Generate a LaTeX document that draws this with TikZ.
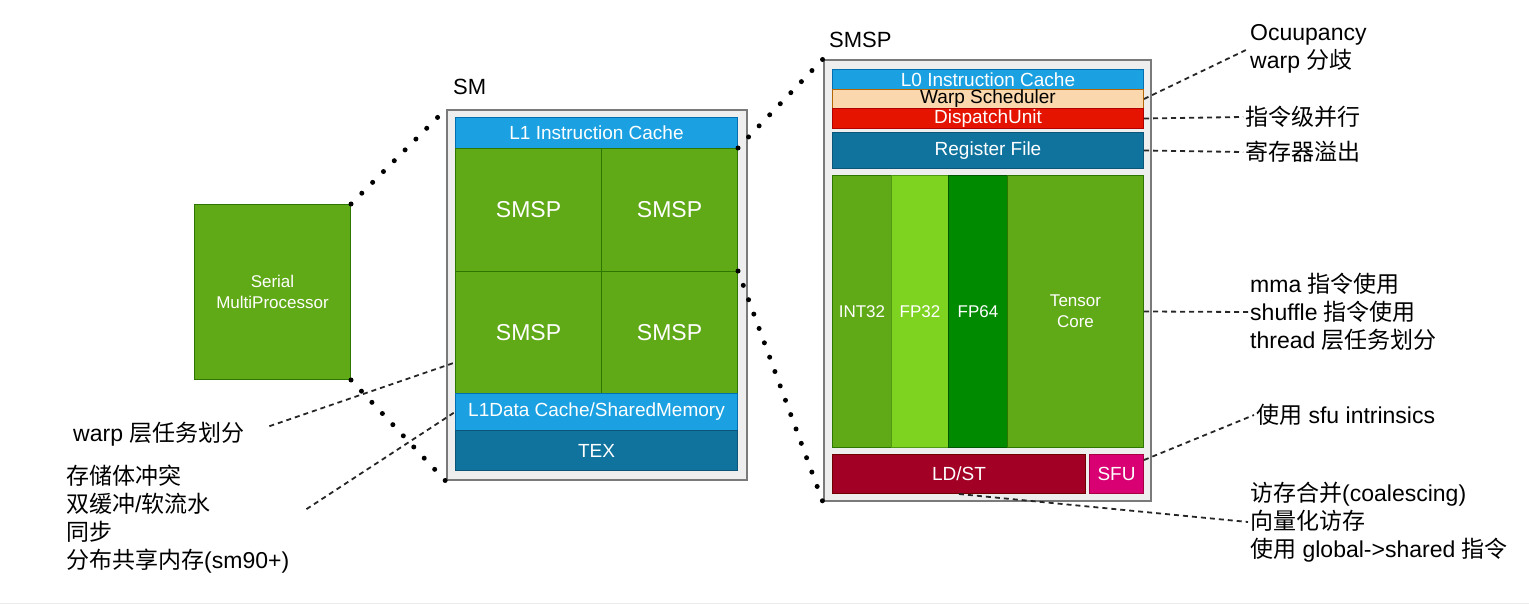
\documentclass[tikz,border=0pt]{standalone}
\usepackage{fontspec}
\setmainfont{Liberation Sans}
\newfontfamily\cjk{Noto Sans CJK SC}
\definecolor{gfill}{HTML}{60A917}
\definecolor{gline}{HTML}{2D7600}
\definecolor{lgfill}{HTML}{7ED321}
\definecolor{lgline}{HTML}{4F9A12}
\definecolor{dgfill}{HTML}{008A00}
\definecolor{dgline}{HTML}{005700}
\definecolor{bfill}{HTML}{1BA1E2}
\definecolor{bline}{HTML}{006EAF}
\definecolor{tfill}{HTML}{10739E}
\definecolor{tline}{HTML}{0A5578}
\definecolor{ofill}{HTML}{FAD7AC}
\definecolor{oline}{HTML}{B46504}
\definecolor{rfill}{HTML}{E51400}
\definecolor{rline}{HTML}{B20000}
\definecolor{cfill}{HTML}{A20025}
\definecolor{cline}{HTML}{6F0000}
\definecolor{mfill}{HTML}{D80073}
\definecolor{mline}{HTML}{A50040}
\definecolor{frfill}{HTML}{EEEEEE}
\definecolor{frline}{HTML}{7A7A7A}
\begin{document}
\begin{tikzpicture}[x=1pt,y=-1pt,
  box/.style={draw, anchor=north west, inner sep=0pt, text=white, align=center,
    font=\fontsize{19}{23}\selectfont, line width=1pt},
  greenbox/.style={box, fill=gfill, draw=gline},
  lgreenbox/.style={box, fill=lgfill, draw=lgline},
  dgreenbox/.style={box, fill=dgfill, draw=dgline},
  bluebox/.style={box, fill=bfill, draw=bline},
  tealbox/.style={box, fill=tfill, draw=tline},
  orangebox/.style={box, fill=ofill, draw=oline, text=black},
  redbox/.style={box, fill=rfill, draw=rline},
  crimsonbox/.style={box, fill=cfill, draw=cline},
  magentabox/.style={box, fill=mfill, draw=mline},
  framebox/.style={draw=frline, fill=frfill, line width=2.4pt, anchor=north west, inner sep=0pt},
  title/.style={anchor=west, inner sep=0pt, font=\fontsize{22}{26}\selectfont},
  lbl/.style={anchor=west, inner sep=2pt, align=left, font=\fontsize{23}{28}\selectfont},
  dotline/.style={line width=5pt, line cap=round, dash pattern=on 0pt off 15.3pt},
  dashline/.style={draw=black!85, line width=1.8pt, dash pattern=on 5pt off 4pt},
]
\useasboundingbox (0,0) rectangle (1529,604);
\draw[black!8, line width=1pt] (0,603.5) -- (1529,603.5);

% Serial MultiProcessor
\node[greenbox, minimum width=156pt, minimum height=175pt, font=\fontsize{17}{21}\selectfont] (smp) at (194,204) {Serial\\MultiProcessor};

% SM
\node[title] (smtitle) at (453,87) {SM};
\node[framebox, minimum width=300pt, minimum height=370pt] (smframe) at (446,109) {};
\node[bluebox, minimum width=282pt, minimum height=31pt] (l1i) at (455,117) {L1 Instruction Cache};
\node[greenbox, minimum width=146pt, minimum height=123pt, font=\fontsize{23}{27}\selectfont] (smsp1) at (455,148) {SMSP};
\node[greenbox, minimum width=136pt, minimum height=123pt, font=\fontsize{23}{27}\selectfont] (smsp2) at (601,148) {SMSP};
\node[greenbox, minimum width=146pt, minimum height=122pt, font=\fontsize{23}{27}\selectfont] (smsp3) at (455,271) {SMSP};
\node[greenbox, minimum width=136pt, minimum height=122pt, font=\fontsize{23}{27}\selectfont] (smsp4) at (601,271) {SMSP};
\node[bluebox, minimum width=282pt, minimum height=37pt] (l1d) at (455,393) {L1Data Cache/SharedMemory};
\node[tealbox, minimum width=282pt, minimum height=40pt] (tex) at (455,430) {TEX};

% SMSP
\node[title] (smsptitle) at (829,40) {SMSP};
\node[framebox, minimum width=327pt, minimum height=441pt] (smspframe) at (823,59) {};
\node[bluebox, minimum width=311pt, minimum height=20pt] (l0) at (832,69) {L0 Instruction Cache};
\node[orangebox, minimum width=311pt, minimum height=19pt] (ws) at (832,89) {Warp Scheduler};
\node[redbox, minimum width=311pt, minimum height=20pt] (du) at (832,108) {DispatchUnit};
\node[tealbox, minimum width=311pt, minimum height=36pt] (rf) at (832,132) {Register File};
\node[greenbox, minimum width=59pt, minimum height=272pt, font=\fontsize{17}{21}\selectfont] (int32) at (832,175) {INT32};
\node[lgreenbox, minimum width=57pt, minimum height=272pt, font=\fontsize{17}{21}\selectfont] (fp32) at (891,175) {FP32};
\node[dgreenbox, minimum width=59pt, minimum height=272pt, font=\fontsize{17}{21}\selectfont] (fp64) at (948,175) {FP64};
\node[greenbox, minimum width=136pt, minimum height=272pt, font=\fontsize{17}{21}\selectfont] (tensor) at (1007,175) {Tensor\\Core};
\node[crimsonbox, minimum width=253pt, minimum height=39pt] (ldst) at (832,454) {LD/ST};
\node[magentabox, minimum width=54pt, minimum height=39pt] (sfu) at (1089,454) {SFU};

% Labels right
\node[lbl] (occ) at (1248,49) {Ocuupancy\\warp {\cjk 分歧}};
\node[lbl] (ilp) at (1243,117) {{\cjk 指令级并行}};
\node[lbl] (reg) at (1243,152) {{\cjk 寄存器溢出}};
\node[lbl] (tc) at (1248,312) {mma {\cjk 指令使用}\\shuffle {\cjk 指令使用}\\thread {\cjk 层任务划分}};
\node[lbl] (sfulbl) at (1254,415) {{\cjk 使用} sfu intrinsics};
\node[lbl] (mem) at (1248,522) {{\cjk 访存合并}(coalescing)\\{\cjk 向量化访存}\\{\cjk 使用} global->shared {\cjk 指令}};

% Labels left
\node[lbl] (warp) at (71,434) {warp {\cjk 层任务划分}};
\node[lbl] (smem) at (64,519) {{\cjk 存储体冲突}\\{\cjk 双缓冲}/{\cjk 软流水}\\{\cjk 同步}\\{\cjk 分布共享内存}(sm90+)};

% Dashed connectors
\draw[dashline] (ws.east) -- (occ.west);
\draw[dashline] (du.east) -- (ilp.west);
\draw[dashline] (rf.east) -- (reg.west);
\draw[dashline] (tensor.east) -- (tc.west);
\draw[dashline] ([yshift=-6pt]sfu.north east) -- (sfulbl.west);
\draw[dashline] (ldst.south) -- (mem.west);
\draw[dashline, shorten <=24pt] (warp.east) -- ([yshift=-30pt]smsp3.west);
\draw[dashline, shorten <=18pt] (smem.east) -- (l1d.west);

% Dotted zoom lines
\draw[dotline] (smp.north east) -- (smframe.north west);
\draw[dotline] (smp.south east) -- (smframe.south west);
\draw[dotline] (smsp2.north east) -- (smspframe.north west);
\draw[dotline] (smsp4.north east) -- (smspframe.south west);
\end{tikzpicture}
\end{document}
